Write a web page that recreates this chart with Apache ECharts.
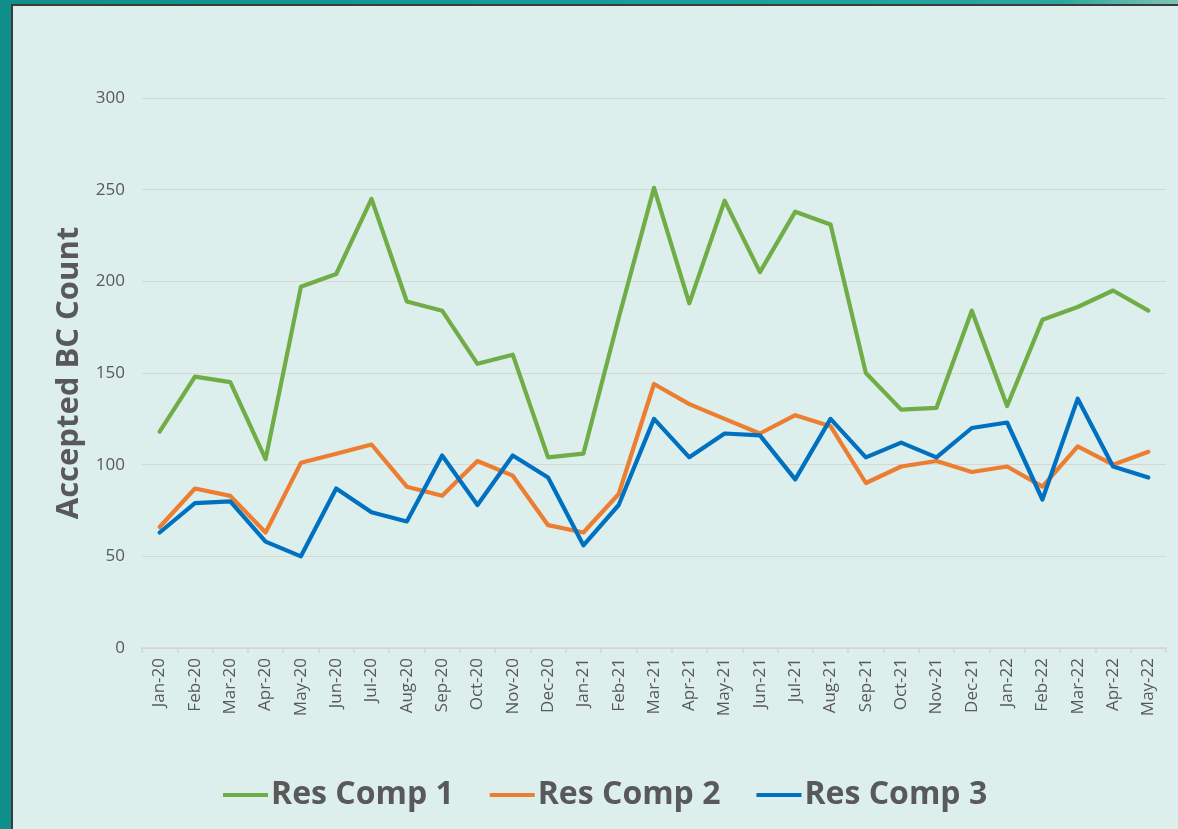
<!DOCTYPE html>
<html>
<head>
<meta charset="utf-8">
<script src="https://cdn.jsdelivr.net/npm/echarts@6/dist/echarts.min.js"></script>
<style>
  html, body { margin: 0; padding: 0; width: 1178px; height: 829px; overflow: hidden; }
  body { background: linear-gradient(90deg, #0f8f8c 0%, #15a19c 60%, #2aa79c 90%, #7cc3b2 100%); position: relative; }
  #panel {
    position: absolute; left: 11px; top: 4px; right: 0; bottom: 0;
    background: #dcefec; border-left: 2px solid #3c3c3c; border-top: 2px solid #3c3c3c;
  }
  #chart { position: absolute; left: 0; top: 0; width: 1178px; height: 829px; }
</style>
</head>
<body>
<div id="panel"></div>
<div id="chart"></div>
<script>
// Monthly accepted BC counts per residential component
const months = ['Jan-20','Feb-20','Mar-20','Apr-20','May-20','Jun-20','Jul-20','Aug-20','Sep-20','Oct-20','Nov-20','Dec-20',
  'Jan-21','Feb-21','Mar-21','Apr-21','May-21','Jun-21','Jul-21','Aug-21','Sep-21','Oct-21','Nov-21','Dec-21',
  'Jan-22','Feb-22','Mar-22','Apr-22','May-22'];
const resComp1 = [118,148,145,103,197,204,245,189,184,155,160,104,106,180,251,188,244,205,238,231,150,130,131,184,132,179,186,195,184];
const resComp2 = [66,87,83,63,101,106,111,88,83,102,94,67,63,84,144,133,125,117,127,121,90,99,102,96,99,88,110,100,107];
const resComp3 = [63,79,80,58,50,87,74,69,105,78,105,93,56,78,125,104,117,116,92,125,104,112,104,120,123,81,136,99,93];
const seriesNames = ['Res Comp 1','Res Comp 2','Res Comp 3'];
const seriesColors = ['#70ad47','#ed7d31','#0070c0'];

const FONT = '"Open Sans", "DejaVu Sans", sans-serif';
const TEXT = '#595959';

const chart = echarts.init(document.getElementById('chart'), null, { renderer: 'canvas' });

function lineSeries(name, data, color) {
  return {
    name: name, type: 'line', data: data, showSymbol: false, symbol: 'none',
    lineStyle: { color: color, width: 4.2, cap: 'round', join: 'round' },
    itemStyle: { color: color },
    emphasis: { disabled: true }
  };
}

chart.setOption({
  backgroundColor: 'transparent',
  animation: false,
  textStyle: { fontFamily: FONT },
  grid: { left: 142, right: 12, top: 98, bottom: 181, containLabel: false },
  legend: {
    data: seriesNames,
    left: 218, top: 774,
    icon: 'rect', itemWidth: 45, itemHeight: 4, itemGap: 36,
    textStyle: { fontFamily: FONT, fontSize: 32, fontWeight: 'bold', color: TEXT, padding: [0, 0, 0, -2] }
  },
  xAxis: {
    type: 'category', data: months, boundaryGap: true,
    axisLine: { lineStyle: { color: '#d4d4d4', width: 1.5 } },
    axisTick: { show: true, alignWithLabel: false, length: 5, lineStyle: { color: '#d4d4d4', width: 1.5 } },
    axisLabel: { rotate: 90, interval: 0, margin: 10, fontSize: 17, color: TEXT, fontFamily: FONT }
  },
  yAxis: {
    type: 'value', min: 0, max: 300, interval: 50,
    name: 'Accepted BC Count', nameLocation: 'middle', nameGap: 57, nameRotate: 90,
    nameTextStyle: { fontFamily: FONT, fontSize: 31, fontWeight: 'bold', color: TEXT },
    axisLine: { show: false }, axisTick: { show: false },
    axisLabel: { fontSize: 17, color: TEXT, margin: 17, fontFamily: FONT },
    splitLine: { lineStyle: { color: '#d6d6d6', width: 1.2 } }
  },
  series: [
    lineSeries(seriesNames[0], resComp1, seriesColors[0]),
    lineSeries(seriesNames[1], resComp2, seriesColors[1]),
    lineSeries(seriesNames[2], resComp3, seriesColors[2])
  ]
});
</script>
</body>
</html>
